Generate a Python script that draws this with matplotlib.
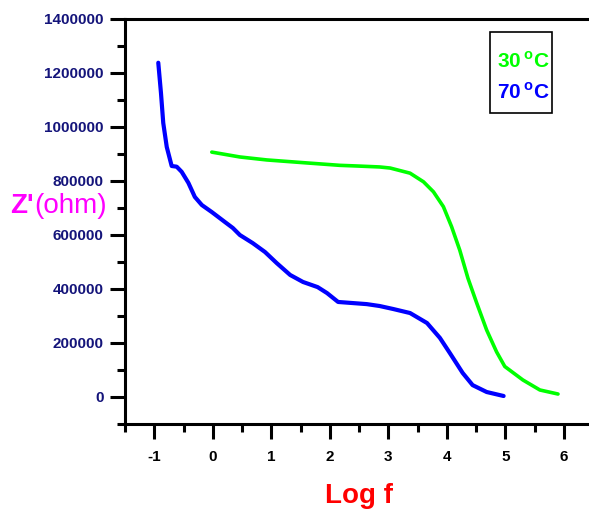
import matplotlib
matplotlib.use("Agg")
import matplotlib.pyplot as plt
from matplotlib.ticker import MultipleLocator
from matplotlib.patches import Rectangle

plt.rcParams['font.family'] = ['Liberation Sans', 'DejaVu Sans']
plt.rcParams['mathtext.fontset'] = 'custom'
plt.rcParams['mathtext.rm'] = 'Liberation Sans:bold'
plt.rcParams['mathtext.bf'] = 'Liberation Sans:bold'

# 70 °C series
logf_70 = [-0.935, -0.889, -0.85, -0.79, -0.706, -0.62, -0.535, -0.42, -0.31, -0.19, -0.02,
           0.205, 0.34, 0.46, 0.68, 0.89, 1.09, 1.32, 1.54, 1.79, 1.95, 2.14, 2.63, 2.85,
           3.08, 3.37, 3.66, 3.88, 4.05, 4.27, 4.44, 4.68, 4.97]
z_70 = [1238000, 1126000, 1015000, 926000, 855600, 853000, 834000, 793000, 741000, 711000,
        685000, 648000, 626000, 600000, 570000, 537000, 496000, 452000, 426000, 407000,
        385000, 352000, 344000, 337000, 326000, 311000, 274000, 219000, 163000, 89000,
        44000, 18500, 3700]

# 30 °C series
logf_30 = [-0.02, 0.46, 0.92, 1.6, 2.17, 2.46, 2.85, 3.03, 3.37, 3.6, 3.77, 3.94, 4.08, 4.22,
           4.36, 4.51, 4.68, 4.85, 4.99, 5.30, 5.59, 5.90]
z_30 = [907000, 889000, 878000, 867000, 858000, 855600, 852000, 848000, 829000, 797000,
        760000, 705000, 631000, 544000, 440000, 348000, 248000, 167000, 113000, 63000,
        26000, 11000]

labels = ["30$\\,^{\\rm o}$C", "70$\\,^{\\rm o}$C"]
colors = ["#00ff00", "#0000ff"]

fig = plt.figure(figsize=(5.89, 5.13), dpi=100)
ax = fig.add_axes([125/589, 89/513, 464/589, 405/513])

ax.plot(logf_30, z_30, color=colors[0], lw=2.6, solid_capstyle='round', solid_joinstyle='round')
ax.plot(logf_70, z_70, color=colors[1], lw=3.0, solid_capstyle='round', solid_joinstyle='round')

ax.set_xlim(-1.504, 6.43)
ax.set_ylim(-100000, 1400000)
ax.xaxis.set_minor_locator(MultipleLocator(0.5))
ax.yaxis.set_minor_locator(MultipleLocator(100000))

ax.spines['right'].set_visible(False)
for s in ['left', 'bottom', 'top']:
    ax.spines[s].set_linewidth(2.2)

ax.tick_params(which='major', direction='out', length=10.5, width=2.2)
ax.tick_params(which='minor', direction='out', length=6, width=2.2)
ax.tick_params(axis='y', which='major', pad=5, labelsize=11, labelcolor='#14147a')
ax.tick_params(axis='x', which='major', pad=8, labelsize=11, labelcolor='black')
ax.tick_params(top=False, which='both')
xt = [-1, 0, 1, 2, 3, 4, 5, 6]
yt = [0, 200000, 400000, 600000, 800000, 1000000, 1200000, 1400000]
ax.set_xticks(xt)
ax.set_xticklabels([str(v) for v in xt], fontweight='bold')
ax.set_yticks(yt)
ax.set_yticklabels([str(v) for v in yt], fontweight='bold')

# Y label (horizontal, magenta)
t1 = fig.text(10/589, 1 - 206/513, "Z'", color='#ff00ff', fontsize=20, fontweight='bold',
              va='center', ha='left')
fig.canvas.draw()
bb = t1.get_window_extent(renderer=fig.canvas.get_renderer())
fig.text(bb.x1 / fig.bbox.width + 1/589, 1 - 206/513, "(ohm)", color='#ff00ff', fontsize=20,
         va='center', ha='left')

# X label
fig.text(359/589, 1 - 496/513, "Log f", color='#ff0000', fontsize=20, fontweight='bold',
         ha='center', va='center')

# Legend box
ax.add_patch(Rectangle((0.7866, 0.768), 0.1334, 0.200, transform=ax.transAxes,
                       facecolor='white', edgecolor='black', lw=1.2, zorder=5))
for lab, c, yy in zip(labels, colors, [0.896, 0.820]):
    ax.text(0.8017, yy, lab, color=c, fontsize=15, fontweight='bold', transform=ax.transAxes,
            ha='left', va='center', zorder=6)

fig.savefig("out.png", dpi=100)
